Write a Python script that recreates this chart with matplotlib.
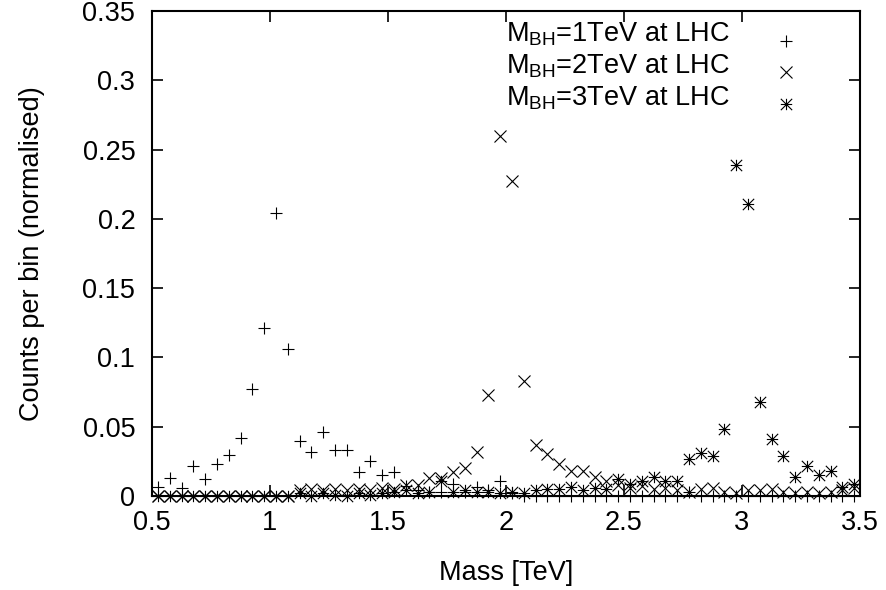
import numpy as np
import matplotlib
matplotlib.use('Agg')
import matplotlib.pyplot as plt
from matplotlib.path import Path
from matplotlib.ticker import FuncFormatter
from matplotlib.legend_handler import HandlerLine2D

plt.rcParams['font.family'] = ['Liberation Sans', 'DejaVu Sans']
plt.rcParams['mathtext.default'] = 'regular'

# bin centres (TeV)
mass = [0.525, 0.575, 0.625, 0.675, 0.725, 0.775, 0.825, 0.875, 0.925, 0.975,
        1.025, 1.075, 1.125, 1.175, 1.225, 1.275, 1.325, 1.375, 1.425, 1.475,
        1.525, 1.575, 1.625, 1.675, 1.725, 1.775, 1.825, 1.875, 1.925, 1.975,
        2.025, 2.075, 2.125, 2.175, 2.225, 2.275, 2.325, 2.375, 2.425, 2.475,
        2.525, 2.575, 2.625, 2.675, 2.725, 2.775, 2.825, 2.875, 2.925, 2.975,
        3.025, 3.075, 3.125, 3.175, 3.225, 3.275, 3.325, 3.375, 3.425, 3.475]

counts_1tev = [0.0066, 0.013, 0.006, 0.0216, 0.0125, 0.0233, 0.0297, 0.042, 0.0775, 0.121,
               0.204, 0.106, 0.040, 0.0316, 0.046, 0.0335, 0.0335, 0.0173, 0.0252, 0.0154,
               0.0173, 0.007, 0.004, 0.003, 0.003, 0.009, 0.003, 0.0066, 0.004, 0.011,
               0.002, 0.0, 0.0, 0.0, 0.0, 0.0, 0.0, 0.0, 0.0, 0.0,
               0.0, 0.0, 0.0, 0.0, 0.0, 0.003, 0.0, 0.0, 0.0, 0.0,
               0.0, 0.0, 0.0, 0.0, 0.0, 0.0, 0.0, 0.0, 0.0, 0.0]

counts_2tev = [0.0, 0.0, 0.0, 0.0, 0.0, 0.0, 0.0, 0.0, 0.0, 0.0,
               0.0, 0.0, 0.004, 0.005, 0.004, 0.005, 0.004, 0.005, 0.004, 0.006,
               0.005, 0.0077, 0.0077, 0.013, 0.013, 0.0173, 0.020, 0.032, 0.073, 0.260,
               0.227, 0.083, 0.037, 0.030, 0.023, 0.018, 0.018, 0.0137, 0.011, 0.008,
               0.006, 0.007, 0.005, 0.006, 0.004, 0.003, 0.005, 0.006, 0.003, 0.002,
               0.004, 0.004, 0.005, 0.003, 0.002, 0.003, 0.002, 0.003, 0.004, 0.006]

counts_3tev = [0.0, 0.0, 0.0, 0.0, 0.0, 0.0, 0.0, 0.0, 0.0, 0.0,
               0.0, 0.0, 0.002, 0.0, 0.002, 0.001, 0.0, 0.002, 0.001, 0.002,
               0.003, 0.004, 0.002, 0.003, 0.011, 0.003, 0.004, 0.003, 0.003, 0.002,
               0.003, 0.002, 0.004, 0.005, 0.005, 0.0066, 0.004, 0.006, 0.005, 0.012,
               0.009, 0.011, 0.0137, 0.011, 0.011, 0.027, 0.031, 0.029, 0.048, 0.239,
               0.211, 0.0675, 0.041, 0.0288, 0.0137, 0.022, 0.015, 0.0178, 0.0066, 0.009]

labels = [r'M$_{BH}$=1TeV at LHC', r'M$_{BH}$=2TeV at LHC', r'M$_{BH}$=3TeV at LHC']

# gnuplot-style star: plus and cross overlaid
star = Path([(-1, 0), (1, 0), (0, -1), (0, 1), (-1, -1), (1, 1), (-1, 1), (1, -1)],
            [Path.MOVETO, Path.LINETO] * 4)


class LowHandler(HandlerLine2D):
    # key samples sit a little lower than the text, as gnuplot draws them
    def create_artists(self, legend, orig_handle, xdescent, ydescent,
                       width, height, fontsize, trans):
        return super().create_artists(legend, orig_handle, xdescent, ydescent + 12,
                                      width, height, fontsize, trans)


fig = plt.figure(figsize=(8.86, 5.90), dpi=100)
ax = fig.add_axes([152 / 886, 1 - 496 / 590, 708 / 886, 485 / 590])

ms = 8.6
ax.plot(mass, counts_1tev, ls='none', marker='+', ms=ms, mew=0.8, color='black',
        clip_on=False, label=labels[0])
ax.plot(mass, counts_2tev, ls='none', marker='x', ms=ms * 0.95, mew=0.8, color='black',
        clip_on=False, label=labels[1])
ax.plot(mass, counts_3tev, ls='none', marker=star, ms=ms * 0.95, mew=0.8, color='black',
        mfc='none', clip_on=False, label=labels[2])

ax.set_xlim(0.5, 3.5)
ax.set_ylim(0, 0.35)
ax.set_xticks(np.arange(0.5, 3.51, 0.5))
ax.set_yticks(np.arange(0, 0.351, 0.05))
ax.xaxis.set_major_formatter(FuncFormatter(lambda v, p: '%g' % round(v, 3)))
ax.yaxis.set_major_formatter(FuncFormatter(lambda v, p: '%g' % round(v, 3)))
ax.tick_params(direction='in', length=8, width=1.2, top=True, right=True,
               labelsize=19.5)
ax.tick_params(axis='x', pad=10)
ax.tick_params(axis='y', pad=12)
for s in ax.spines.values():
    s.set_linewidth(1.5)

ax.set_xlabel('Mass [TeV]', fontsize=19.5, labelpad=17)
ax.set_ylabel('Counts per bin (normalised)', fontsize=19.5, labelpad=27)

ax.legend(loc='upper right', bbox_to_anchor=(0.919, 0.985), frameon=False,
          markerfirst=False, fontsize=19.5, handlelength=1.0, handletextpad=1.6,
          labelspacing=0.15, borderpad=0.1, borderaxespad=0,
          handler_map={matplotlib.lines.Line2D: LowHandler()})

fig.savefig('out.png', dpi=100)
